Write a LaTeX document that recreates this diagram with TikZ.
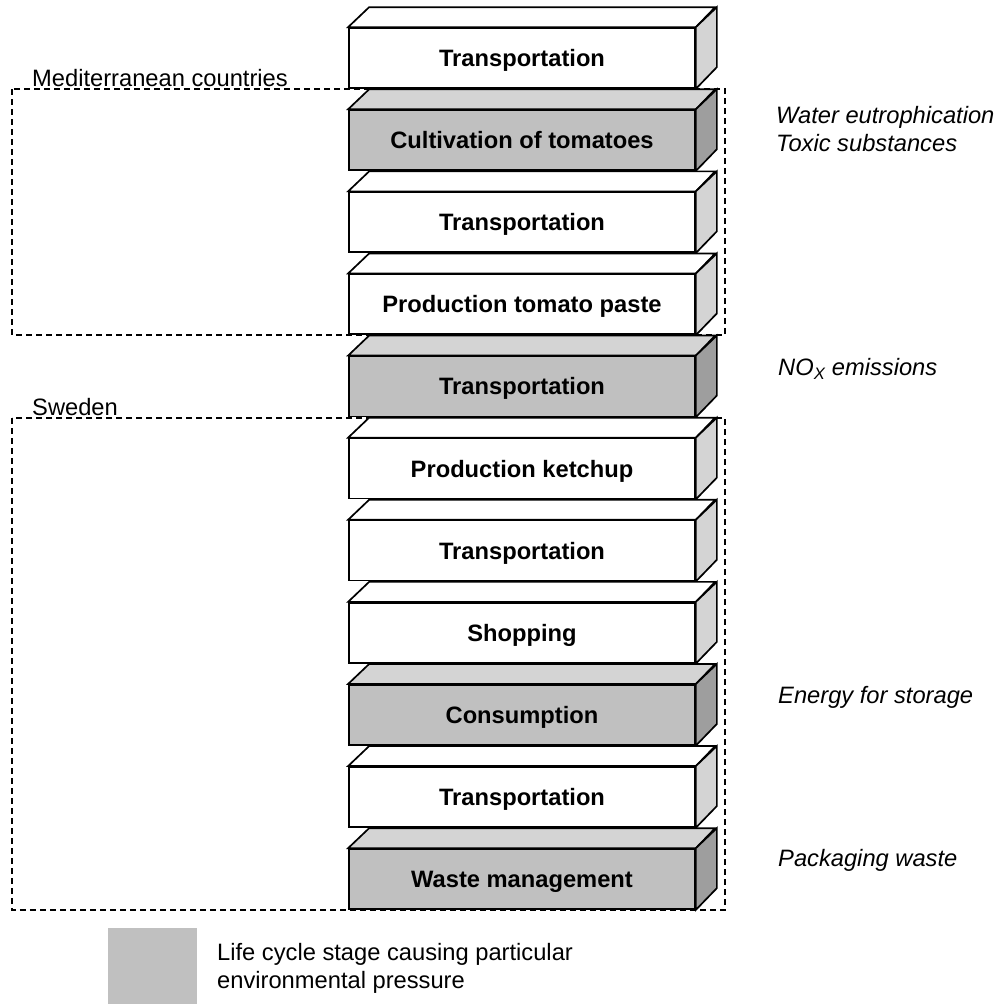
\documentclass[tikz,border=0pt]{standalone}
\usepackage{fontspec}
\setmainfont{Liberation Sans}
\definecolor{pgray}{RGB}{192,192,192}
\definecolor{ptop}{RGB}{212,212,212}
\definecolor{pside}{RGB}{158,158,158}
\definecolor{wside}{RGB}{212,212,212}
\newcommand\stageFaces[3]{%
  \draw[facestyle, fill=#2] (#1.north west) -- ++(21,-20) -- ++(346,0) -- (#1.north east) -- cycle;
  \draw[facestyle, fill=#3] (#1.north east) -- ++(21,-20) -- ++(0,60) -- (#1.south east) -- cycle;
}
\begin{document}
\begin{tikzpicture}[x=1pt,y=-1pt,
  facestyle/.style={draw=black, line width=1.7pt, line join=miter},
  stagebox/.style={draw=black, line width=1.7pt, minimum width=346pt, minimum height=60pt,
    inner sep=0pt, text height=17pt, text depth=0pt,
    font=\fontsize{23.7}{28}\selectfont\bfseries},
  whitebox/.style={stagebox, fill=white},
  graybox/.style={stagebox, fill=pgray},
  effect/.style={anchor=base west, inner sep=0pt, font=\fontsize{23.7}{28}\selectfont\itshape},
  region/.style={draw=black, line width=1.3pt, dash pattern=on 6pt off 4pt},
  regionlabel/.style={anchor=base west, inner sep=0pt, font=\fontsize{23.7}{28}\selectfont},
  legendtext/.style={anchor=base west, inner sep=0pt, font=\fontsize{23.7}{28}\selectfont}
]
\useasboundingbox (0,0) rectangle (997,1004);

% regions
\draw[region] (12,89) rectangle (725,335);
\draw[region] (12,418) rectangle (725,910);
\node[regionlabel] (med) at (32,86) {Mediterranean countries};
\node[regionlabel] (swe) at (32,415) {Sweden};

% stages
\node[whitebox] (b1) at (522,58) {Transportation};
\stageFaces{b1}{white}{wside}
\node[graybox] (b2) at (522,140.1) {Cultivation of tomatoes};
\stageFaces{b2}{ptop}{pside}
\node[whitebox] (b3) at (522,222.2) {Transportation};
\stageFaces{b3}{white}{wside}
\node[whitebox] (b4) at (522,304.3) {Production tomato paste};
\stageFaces{b4}{white}{wside}
\node[graybox] (b5) at (522,386.4) {Transportation};
\stageFaces{b5}{ptop}{pside}
\node[whitebox] (b6) at (522,468.5) {Production ketchup};
\stageFaces{b6}{white}{wside}
\node[whitebox] (b7) at (522,550.6) {Transportation};
\stageFaces{b7}{white}{wside}
\node[whitebox] (b8) at (522,632.7) {Shopping};
\stageFaces{b8}{white}{wside}
\node[graybox] (b9) at (522,714.8) {Consumption};
\stageFaces{b9}{ptop}{pside}
\node[whitebox] (b10) at (522,796.9) {Transportation};
\stageFaces{b10}{white}{wside}
\node[graybox] (b11) at (522,879) {Waste management};
\stageFaces{b11}{ptop}{pside}

% environmental pressures
\node[effect] (e1) at (776,123.5) {Water eutrophication};
\node[effect] (e2) at (776,151.5) {Toxic substances};
\node[effect] (e3) at (778,375.5) {NO\textsubscript{X} emissions};
\node[effect] (e4) at (778,703.5) {Energy for storage};
\node[effect] (e5) at (778,866.5) {Packaging waste};

% legend
\node[fill=pgray, minimum width=89pt, minimum height=76pt, inner sep=0pt] (leg) at (152.5,966) {};
\node[legendtext] (lt1) at (217,960.5) {Life cycle stage causing particular};
\node[legendtext] (lt2) at (217,988.5) {environmental pressure};
\end{tikzpicture}
\end{document}
